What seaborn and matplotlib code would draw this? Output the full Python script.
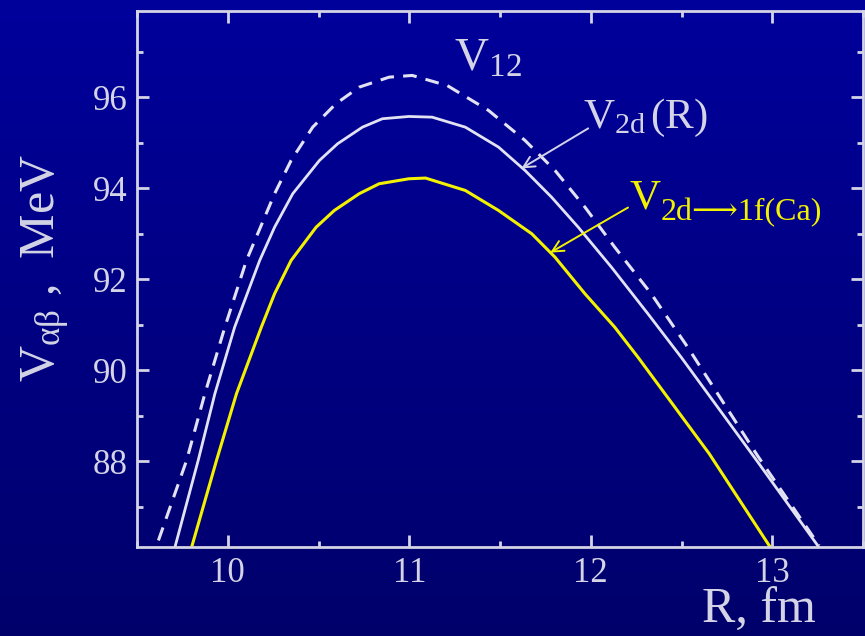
import numpy as np
import pandas as pd
import matplotlib
matplotlib.use("Agg")
import matplotlib.pyplot as plt
import seaborn as sns

# ---- data ----
r_v12 = [9.618, 9.773, 9.874, 9.984, 10.103, 10.258, 10.349, 10.468, 10.596,
         10.724, 10.889, 11.016, 11.21, 11.437, 11.638, 11.803, 11.968,
         12.132, 12.333, 12.534, 12.918, 13.258]
v_v12 = [86.264, 88.022, 89.488, 90.952, 92.418, 93.884, 94.615, 95.347,
         95.862, 96.226, 96.446, 96.484, 96.26, 95.714, 95.055, 94.396,
         93.589, 92.710, 91.686, 90.512, 88.132, 86.154]

r_v2d = [9.709, 9.837, 9.929, 10.038, 10.176, 10.258, 10.358, 10.505, 10.605,
         10.742, 10.852, 10.998, 11.126, 11.309, 11.492, 11.638, 11.784,
         11.931, 12.114, 12.315, 12.498, 12.918, 13.258]
v_v2d = [86.116, 88.022, 89.488, 90.952, 92.418, 93.149, 93.884, 94.615,
         94.982, 95.347, 95.532, 95.582, 95.567, 95.347, 94.908, 94.396,
         93.809, 93.149, 92.270, 91.246, 90.292, 88.000, 86.110]

r_v1f = [9.801, 9.938, 10.048, 10.185, 10.258, 10.349, 10.487, 10.587, 10.724,
         10.834, 10.998, 11.090, 11.309, 11.492, 11.675, 11.803,
         11.968, 12.132, 12.260, 12.653, 12.990]
v_v1f = [86.116, 88.022, 89.488, 90.952, 91.686, 92.418, 93.149, 93.516,
         93.884, 94.103, 94.213, 94.228, 93.956, 93.516, 93.004,
         92.490, 91.686, 90.952, 90.292, 88.169, 86.110]

x_ticks = [10, 11, 12, 13]
y_ticks = [88, 90, 92, 94, 96]

sns.set_style("ticks")
plt.rcParams['font.family'] = ['Liberation Serif', 'DejaVu Serif']
plt.rcParams['mathtext.fontset'] = 'custom'
plt.rcParams['mathtext.rm'] = 'Liberation Serif'
plt.rcParams['mathtext.it'] = 'Liberation Serif:italic'
plt.rcParams['mathtext.bf'] = 'Liberation Serif:bold'

FG = '#d4d4e6'
LINE = '#e2e2f2'
YEL = '#f2f200'

fig = plt.figure(figsize=(8.65, 6.36), dpi=100)

# gradient background
bg = fig.add_axes([0, 0, 1, 1], zorder=-10)
top = np.array([0.0, 0.0, 0.61])
bot = np.array([0.0, 0.0, 0.42])
t = np.linspace(0, 1, 256)[:, None]
grad = (top[None, :] * (1 - t) + bot[None, :] * t)[:, None, :]
bg.imshow(grad, aspect='auto', extent=[0, 1, 0, 1], origin='upper')
bg.axis('off')

ax = fig.add_axes([137/865, (636-547)/636, 726/865, 536/636])
ax.set_facecolor('none')

df12 = pd.DataFrame({'R': r_v12, 'V': v_v12})
df2d = pd.DataFrame({'R': r_v2d, 'V': v_v2d})
df1f = pd.DataFrame({'R': r_v1f, 'V': v_v1f})

sns.lineplot(data=df12, x='R', y='V', ax=ax, color=LINE, lw=2.2, estimator=None)
ax.lines[-1].set_dashes([4.5, 3.0])
sns.lineplot(data=df2d, x='R', y='V', ax=ax, color=LINE, lw=2.0, estimator=None)
sns.lineplot(data=df1f, x='R', y='V', ax=ax, color=YEL, lw=2.2, estimator=None)
for ln in ax.lines:
    ln.set_solid_joinstyle('round')
    ln.set_dash_joinstyle('round')

ax.set_xlim(9.5, 13.48)
ax.set_ylim(86.12, 97.9)
ax.set_xticks(x_ticks)
ax.set_yticks(y_ticks)
ax.set_xticks([9.5 + 0.5 * i for i in range(9)], minor=True)
ax.set_yticks([87, 89, 91, 93, 95, 97], minor=True)

for s in ax.spines.values():
    s.set_visible(True)
    s.set_color(FG)
    s.set_linewidth(2.0)

ax.tick_params(which='both', direction='in', top=True, right=True,
               color=FG, width=2.0, labelcolor=FG, labelsize=25)
ax.tick_params(which='major', length=8.5, pad=7)
ax.tick_params(which='minor', length=4.5)

ax.set_xlabel('R, fm', fontsize=36, color=FG, va='center', ha='center')
ax.xaxis.set_label_coords(0.856, -0.118)
ax.set_ylabel(r'V$_{\mathrm{\alpha\beta}}$ ,  MeV', fontsize=36, color=FG,
              va='center', ha='center')
ax.yaxis.set_label_coords(-0.126, 0.52)

# annotations
ax.text(11.245, 96.59, r'V$_{\mathrm{12}}$', fontsize=34, color=FG,
        ha='left', va='baseline')
ax.text(11.958, 95.32, r'V$_{\mathrm{2d}}$$\,$(R)', fontsize=31, color=FG,
        ha='left', va='baseline')
ax.annotate('', xy=(11.618, 94.44), xytext=(11.986, 95.32),
            arrowprops=dict(arrowstyle='->', color=FG, lw=1.4,
                            mutation_scale=20, shrinkA=0, shrinkB=0))
ax.text(12.216, 93.56, 'V', fontsize=31, color=YEL, ha='left', va='baseline')
ax.text(12.386, 93.30, '2d\u27f61f(Ca)', fontsize=23, color=YEL,
        ha='left', va='baseline')
ax.annotate('', xy=(11.777, 92.59), xytext=(12.205, 93.58),
            arrowprops=dict(arrowstyle='->', color=YEL, lw=1.4,
                            mutation_scale=20, shrinkA=0, shrinkB=0))

fig.savefig('out.png', dpi=100)
